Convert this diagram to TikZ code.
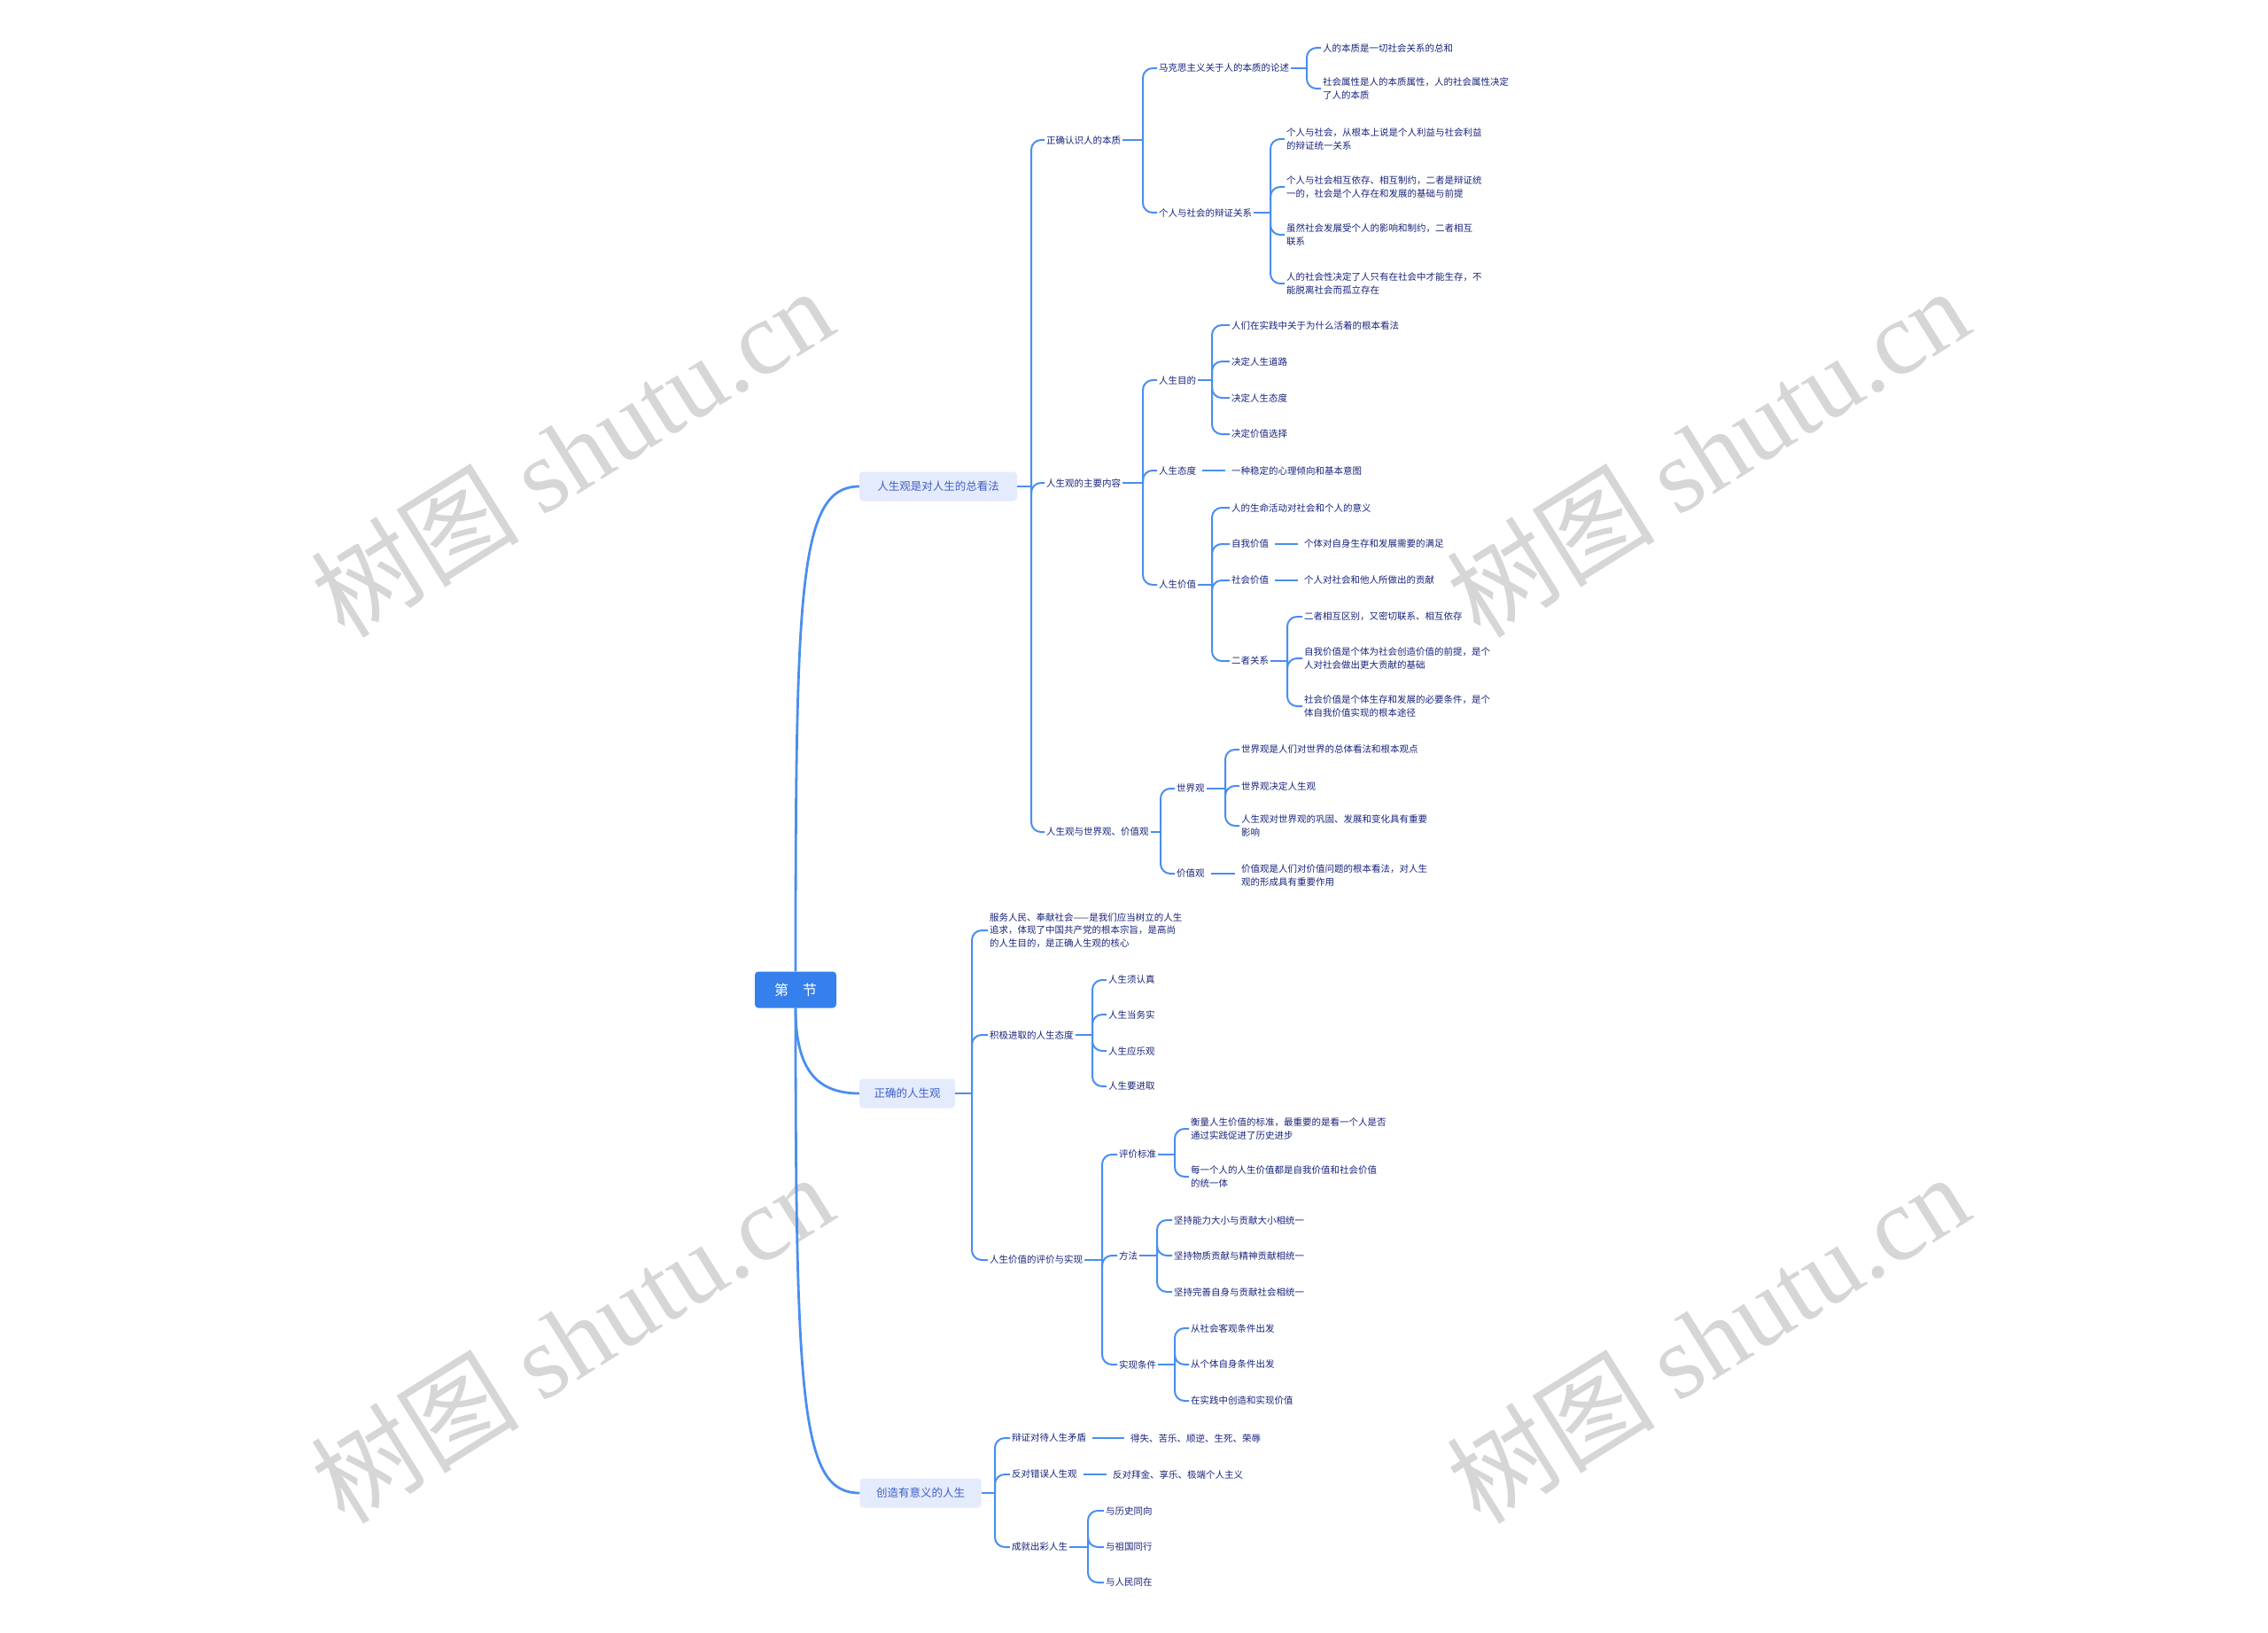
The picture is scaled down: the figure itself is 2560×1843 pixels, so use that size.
\documentclass[tikz,border=0pt]{standalone}
\usepackage{fontspec}
\setmainfont{Noto Sans CJK SC}
\newfontfamily\wmfont{Liberation Serif}
\usetikzlibrary{calc}
\definecolor{lineblue}{HTML}{4A8EF0}
\definecolor{rootblue}{HTML}{3580EC}
\definecolor{boxfill}{HTML}{E4EBFC}
\definecolor{txt}{HTML}{18247C}
\definecolor{btxt}{HTML}{3F5FC4}
\definecolor{wm}{HTML}{D6D6D6}
\newcommand\mmbrace[3]{%
  \draw[conn] let \p1=(#1.east) in (\p1) -- (#2pt,\y1);
  \foreach \c in {#3}{\draw[conn,rounded corners=11pt] let \p1=(#1.east), \p2=(\c.west) in (#2pt,\y1) -- (#2pt,\y2) -- (\p2);}%
}
\newcommand\mmdash[2]{\draw[conn,line width=2.8pt,shorten <=5pt,shorten >=5pt] (#1.east) -- (#1.east -| #2.west);}
\begin{document}
\begin{tikzpicture}[x=1pt,y=-1pt,
  conn/.style={draw=lineblue,line width=2pt},
  trunk/.style={draw=lineblue,line width=2.8pt},
  leaf/.style={anchor=west,text=txt,font=\fontsize{10.5}{14.5}\selectfont,align=left,inner sep=2pt},
  branch/.style={fill=boxfill,rounded corners=4pt,text=btxt,font=\fontsize{12.5}{15}\selectfont,minimum height=33pt,inner sep=2pt},
  wmark/.style={rotate=32,text=wm,font=\fontsize{118}{120}\selectfont,inner sep=0pt}]
\fill[white] (0,0) rectangle (2560,1843);
\useasboundingbox (0,0) rectangle (2560,1843);
% watermarks
\node[wmark] (w1) at (645,510) {树图 {\wmfont shutu.cn}};
\node[wmark] (w2) at (1927,510) {树图 {\wmfont shutu.cn}};
\node[wmark] (w3) at (645,1510) {树图 {\wmfont shutu.cn}};
\node[wmark] (w4) at (1927,1510) {树图 {\wmfont shutu.cn}};
% root and branches
\node[fill=rootblue,rounded corners=4pt,text=white,font=\fontsize{16}{18}\selectfont,minimum width=92pt,minimum height=41pt] (root) at (898,1117) {第\quad 节};
\node[branch,minimum width=178pt] (b1) at (1059,549) {人生观是对人生的总看法};
\node[branch,minimum width=108pt] (b2) at (1024,1234) {正确的人生观};
\node[branch,minimum width=137pt] (b3) at (1039,1685) {创造有意义的人生};
\draw[trunk] (root.north) .. controls (898,660) and (902,549) .. (b1.west);
\draw[trunk] (root.south) .. controls (898,1205) and (920,1234) .. (b2.west);
\draw[trunk] (root.south) .. controls (898,1590) and (905,1685) .. (b3.west);
% ---- branch 1
\node[leaf] (a1) at (1179,158) {正确认识人的本质};
\node[leaf] (a2) at (1179,545) {人生观的主要内容};
\node[leaf] (a3) at (1179,939) {人生观与世界观、价值观};
\node[leaf] (a11) at (1306,77) {马克思主义关于人的本质的论述};
\node[leaf] (a12) at (1306,240) {个人与社会的辩证关系};
\node[leaf] (a111) at (1491,54) {人的本质是一切社会关系的总和};
\node[leaf] (a112) at (1491,100) {社会属性是人的本质属性，人的社会属性决定\\了人的本质};
\node[leaf] (a121) at (1450,157) {个人与社会，从根本上说是个人利益与社会利益\\的辩证统一关系};
\node[leaf] (a122) at (1450,211) {个人与社会相互依存、相互制约，二者是辩证统\\一的，社会是个人存在和发展的基础与前提};
\node[leaf] (a123) at (1450,265) {虽然社会发展受个人的影响和制约，二者相互\\联系};
\node[leaf] (a124) at (1450,320) {人的社会性决定了人只有在社会中才能生存，不\\能脱离社会而孤立存在};
\node[leaf] (a21) at (1306,429) {人生目的};
\node[leaf] (a22) at (1306,531) {人生态度};
\node[leaf] (a23) at (1306,660) {人生价值};
\node[leaf] (a211) at (1388,367) {人们在实践中关于为什么活着的根本看法};
\node[leaf] (a212) at (1388,408) {决定人生道路};
\node[leaf] (a213) at (1388,449) {决定人生态度};
\node[leaf] (a214) at (1388,490) {决定价值选择};
\node[leaf] (a221) at (1388,531) {一种稳定的心理倾向和基本意图};
\node[leaf] (a231) at (1388,573) {人的生命活动对社会和个人的意义};
\node[leaf] (a232) at (1388,614) {自我价值};
\node[leaf] (a233) at (1388,655) {社会价值};
\node[leaf] (a234) at (1388,746) {二者关系};
\node[leaf] (a2321) at (1470,614) {个体对自身生存和发展需要的满足};
\node[leaf] (a2331) at (1470,655) {个人对社会和他人所做出的贡献};
\node[leaf] (a2341) at (1470,696) {二者相互区别，又密切联系、相互依存};
\node[leaf] (a2342) at (1470,743) {自我价值是个体为社会创造价值的前提，是个\\人对社会做出更大贡献的基础};
\node[leaf] (a2343) at (1470,797) {社会价值是个体生存和发展的必要条件，是个\\体自我价值实现的根本途径};
\node[leaf] (a31) at (1326,890) {世界观};
\node[leaf] (a32) at (1326,986) {价值观};
\node[leaf] (a311) at (1399,846) {世界观是人们对世界的总体看法和根本观点};
\node[leaf] (a312) at (1399,887) {世界观决定人生观};
\node[leaf] (a313) at (1399,932) {人生观对世界观的巩固、发展和变化具有重要\\影响};
\node[leaf] (a321) at (1399,988) {价值观是人们对价值问题的根本看法，对人生\\观的形成具有重要作用};
\mmbrace{b1}{1164}{a1,a2,a3}
\mmbrace{a1}{1290}{a11,a12}
\mmbrace{a11}{1475}{a111,a112}
\mmbrace{a12}{1434}{a121,a122,a123,a124}
\mmbrace{a2}{1290}{a21,a22,a23}
\mmbrace{a21}{1368}{a211,a212,a213,a214}
\mmdash{a22}{a221}
\mmbrace{a23}{1368}{a231,a232,a233,a234}
\mmdash{a232}{a2321}
\mmdash{a233}{a2331}
\mmbrace{a234}{1453}{a2341,a2342,a2343}
\mmbrace{a3}{1310}{a31,a32}
\mmbrace{a31}{1383}{a311,a312,a313}
\mmdash{a32}{a321}
% ---- branch 2
\node[leaf] (b21) at (1115,1050) {服务人民、奉献社会——是我们应当树立的人生\\追求，体现了中国共产党的根本宗旨，是高尚\\的人生目的，是正确人生观的核心};
\node[leaf] (b22) at (1115,1168) {积极进取的人生态度};
\node[leaf] (b23) at (1115,1422) {人生价值的评价与实现};
\node[leaf] (b221) at (1249,1106) {人生须认真};
\node[leaf] (b222) at (1249,1145) {人生当务实};
\node[leaf] (b223) at (1249,1186) {人生应乐观};
\node[leaf] (b224) at (1249,1226) {人生要进取};
\node[leaf] (b231) at (1261,1303) {评价标准};
\node[leaf] (b232) at (1261,1417) {方法};
\node[leaf] (b233) at (1261,1540) {实现条件};
\node[leaf] (b2311) at (1342,1274) {衡量人生价值的标准，最重要的是看一个人是否\\通过实践促进了历史进步};
\node[leaf] (b2312) at (1342,1328) {每一个人的人生价值都是自我价值和社会价值\\的统一体};
\node[leaf] (b2321) at (1323,1377) {坚持能力大小与贡献大小相统一};
\node[leaf] (b2322) at (1323,1417) {坚持物质贡献与精神贡献相统一};
\node[leaf] (b2323) at (1323,1458) {坚持完善自身与贡献社会相统一};
\node[leaf] (b2331) at (1342,1499) {从社会客观条件出发};
\node[leaf] (b2332) at (1342,1540) {从个体自身条件出发};
\node[leaf] (b2333) at (1342,1581) {在实践中创造和实现价值};
\mmbrace{b2}{1097}{b21,b22,b23}
\mmbrace{b22}{1233}{b221,b222,b223,b224}
\mmbrace{b23}{1244}{b231,b232,b233}
\mmbrace{b231}{1326}{b2311,b2312}
\mmbrace{b232}{1306}{b2321,b2322,b2323}
\mmbrace{b233}{1326}{b2331,b2332,b2333}
% ---- branch 3
\node[leaf] (c1) at (1140,1623) {辩证对待人生矛盾};
\node[leaf] (c2) at (1140,1664) {反对错误人生观};
\node[leaf] (c3) at (1140,1746) {成就出彩人生};
\node[leaf] (c11) at (1274,1623) {得失、苦乐、顺逆、生死、荣辱};
\node[leaf] (c21) at (1254,1664) {反对拜金、享乐、极端个人主义};
\node[leaf] (c31) at (1246,1705) {与历史同向};
\node[leaf] (c32) at (1246,1746) {与祖国同行};
\node[leaf] (c33) at (1246,1786) {与人民同在};
\mmbrace{b3}{1123}{c1,c2,c3}
\mmdash{c1}{c11}
\mmdash{c2}{c21}
\mmbrace{c3}{1228}{c31,c32,c33}
\end{tikzpicture}
\end{document}
